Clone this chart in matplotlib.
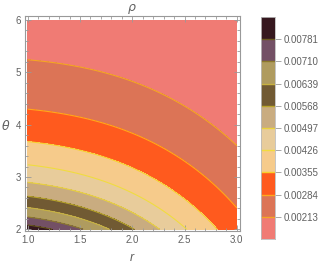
import numpy as np
import matplotlib.pyplot as plt
from matplotlib.colors import ListedColormap
from matplotlib.ticker import MultipleLocator

# contour levels of rho (shown on the legend bar)
levels = [0.00213, 0.00284, 0.00355, 0.00426, 0.00497,
          0.00568, 0.00639, 0.00710, 0.00781]
level_labels = ['0.00213', '0.00284', '0.00355', '0.00426', '0.00497',
                '0.00568', '0.00639', '0.00710', '0.00781']

# band fills, lowest rho first
band_colors = ['#F07B74', '#DC7456', '#FF5A1E', '#F6CB8B', '#E8CC9B',
               '#C9AC80', '#715A33', '#AF9B5F', '#735065', '#36181F']
# contour line colours, one per level
line_colors = ['#F5A623', '#FFA81C', '#F8D02C', '#F2DC3E', '#EAD23C',
               '#B8A42A', '#C8B240', '#8C7A2C', '#6A5A20']

# where each contour meets the frame
theta_at_r1 = [5.25, 4.29, 3.68, 3.235, 2.90, 2.65, 2.42, 2.23, 2.08]
r_at_theta2 = [2.82, 2.54, 2.29, 2.01, 1.75, 1.51, 1.14]   # levels 2..8
theta_at_r3 = [3.57, 2.40]                                  # levels 0..1

# fit 1/rho = a + b*theta^1.5 + c*r^3 through those crossing points
R = np.concatenate([np.ones(9), r_at_theta2, 3 * np.ones(2)])
T = np.concatenate([theta_at_r1, 2 * np.ones(7), theta_at_r3])
L = np.concatenate([levels, levels[2:], levels[:2]])
A = np.column_stack([np.ones_like(R), T ** 1.5, R ** 3])
coef = np.linalg.lstsq(A, 1 / L, rcond=None)[0]

r = np.linspace(1, 3, 400)
theta = np.linspace(2, 6, 400)
RR, TT = np.meshgrid(r, theta)
rho = 1 / (coef[0] + coef[1] * TT ** 1.5 + coef[2] * RR ** 3)

gray = '#999999'
text_gray = '#606060'
plt.rcParams['font.family'] = ['Liberation Sans', 'DejaVu Sans']

fig = plt.figure(figsize=(3.24, 2.70), dpi=100)
ax = fig.add_axes([25 / 324, 39 / 270, 215 / 324, 215 / 270])

bounds = [0] + levels + [1]
ax.contourf(RR, TT, rho, levels=bounds, colors=band_colors)
ax.contour(RR, TT, rho, levels=levels, colors=line_colors, linewidths=0.8)

ax.set_xlim(1 - 0.026, 3 + 0.03)
ax.set_ylim(2 - 0.033, 6 + 0.077)
ax.xaxis.set_major_locator(MultipleLocator(0.5))
ax.xaxis.set_minor_locator(MultipleLocator(0.1))
ax.yaxis.set_major_locator(MultipleLocator(1))
ax.yaxis.set_minor_locator(MultipleLocator(0.2))
ax.set_xticks([1.0, 1.5, 2.0, 2.5, 3.0])
ax.set_xticklabels(['1.0', '1.5', '2.0', '2.5', '3.0'])
ax.tick_params(which='both', direction='in', top=True, right=True,
               color=gray, labelcolor=text_gray, labelsize=7, width=0.6)
ax.tick_params(which='major', length=4, pad=3)
ax.tick_params(which='minor', length=2)
for s in ax.spines.values():
    s.set_color(gray)
    s.set_linewidth(0.8)

fig.text(132 / 324, 1 - 258 / 270, 'r', style='italic', color=text_gray,
         fontsize=9, ha='center', va='center')
fig.text(6 / 324, 1 - 126 / 270, r'$\theta$', color=text_gray,
         fontsize=9, ha='center', va='center')
fig.text(132 / 324, 1 - 9 / 270, r'$\rho$', color=text_gray,
         fontsize=9, ha='center', va='center')

# legend bar
cax = fig.add_axes([261 / 324, 31 / 270, 14 / 324, 222 / 270])
cax.imshow(np.arange(10).reshape(-1, 1), cmap=ListedColormap(band_colors),
           origin='lower', aspect='auto', extent=[0, 1, 0, 10])
for i, c in enumerate(line_colors):
    cax.axhline(i + 1, color=c, linewidth=1.0)
cax.set_xticks([])
cax.set_yticks(np.arange(1, 10))
cax.set_yticklabels(level_labels)
cax.yaxis.tick_right()
cax.tick_params(axis='y', direction='out', length=4, width=0.6, color=gray,
                labelcolor=text_gray, labelsize=7, pad=2)
for s in cax.spines.values():
    s.set_color('#BBBBBB')
    s.set_linewidth(0.6)

fig.savefig('out.png', dpi=100)
